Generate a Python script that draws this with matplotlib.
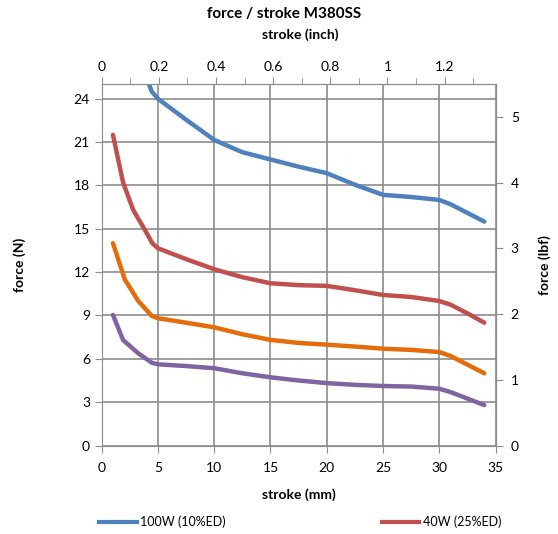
import numpy as np
import matplotlib.pyplot as plt
from matplotlib.lines import Line2D

plt.rcParams['font.family'] = ['Lato', 'DejaVu Sans']

# stroke (mm) and force (N)
x_100w = [4.05, 4.45, 5, 7.5, 10, 12.5, 15, 17.5, 20, 22.5, 25, 27.5, 30, 31, 32.5, 34]
f_100w = [25.3, 24.5, 24.0, 22.55, 21.15, 20.3, 19.8, 19.3, 18.85, 18.05, 17.35, 17.2, 17.0, 16.7, 16.1, 15.5]

x_40w = [1, 1.9, 2.8, 3.85, 4.5, 5, 7.5, 10, 12.5, 15, 17.5, 20, 22.5, 25, 27.5, 30, 31, 32.5, 34]
f_40w = [21.5, 18.2, 16.3, 14.9, 14.0, 13.65, 12.9, 12.2, 11.65, 11.23, 11.1, 11.05, 10.75, 10.42, 10.28, 10.0, 9.75, 9.15, 8.5]

x_or = [1, 2.05, 3.25, 4.45, 5, 7.5, 10, 12.5, 15, 17.5, 20, 22.5, 25, 27.5, 30, 31, 32.5, 34]
f_or = [14.0, 11.5, 10.0, 8.97, 8.81, 8.5, 8.18, 7.7, 7.31, 7.1, 6.98, 6.85, 6.7, 6.62, 6.47, 6.2, 5.6, 5.0]

x_pu = [1, 1.9, 3.25, 4.45, 5, 7.5, 10, 12.5, 15, 17.5, 20, 22.5, 25, 27.5, 30, 31, 32.5, 34]
f_pu = [9.04, 7.3, 6.38, 5.73, 5.62, 5.5, 5.35, 5.0, 4.72, 4.5, 4.32, 4.2, 4.12, 4.08, 3.93, 3.7, 3.25, 2.8]

labels = ['100W (10%ED)', '40W (25%ED)']
grey = '#8c8c8c'

fig = plt.figure(figsize=(5.58, 5.34), dpi=100)
ax = fig.add_axes([0.1823, 0.1657, 0.7057, 0.6764])

ax.plot(x_100w, f_100w, color='#4F81BD', lw=3.2, solid_joinstyle='round', solid_capstyle='round')
ax.plot(x_40w, f_40w, color='#C0504D', lw=3.2, solid_joinstyle='round', solid_capstyle='round')
ax.plot(x_or, f_or, color='#E46C0A', lw=3.2, solid_joinstyle='round', solid_capstyle='round')
ax.plot(x_pu, f_pu, color='#8064A2', lw=3.2, solid_joinstyle='round', solid_capstyle='round')

ax.set_xlim(0, 35)
ax.set_ylim(0, 25)
ax.set_xticks(np.arange(0, 36, 5))
ax.set_yticks(np.arange(0, 25, 3))
ax.grid(True, color=grey, lw=1.2)
ax.set_axisbelow(True)
for s in ax.spines.values():
    s.set_color(grey)
ax.tick_params(colors=grey, labelcolor='black', labelsize=10, length=5, direction='out')
ax.tick_params(axis='x', pad=7)
ax.set_xlabel('stroke (mm)', fontsize=10, fontweight='bold', labelpad=10)
ax.set_ylabel('force (N)', fontsize=10, fontweight='bold', labelpad=34)

# top axis in inch
top = ax.secondary_xaxis('top', functions=(lambda x: x / 25.4, lambda x: x * 25.4))
top.set_xticks(np.arange(0, 1.3, 0.2))
top.set_xticklabels(['0', '0.2', '0.4', '0.6', '0.8', '1', '1.2'])
top.set_xticks(np.arange(0.1, 1.4, 0.2), minor=True)
top.tick_params(colors=grey, labelcolor='black', labelsize=10, length=5, pad=3)
top.tick_params(which='minor', colors=grey, length=4)
top.spines['top'].set_color(grey)

# right axis in lbf
ax2 = ax.twinx()
ax2.set_ylim(0, 5.5)
ax2.set_yticks(range(0, 6))
for s in ax2.spines.values():
    s.set_visible(False)
ax2.spines['right'].set_visible(True)
ax2.spines['right'].set_color(grey)
ax2.tick_params(colors=grey, labelcolor='black', labelsize=10, length=5, pad=6)
ax2.set_ylabel('force (lbf)', fontsize=10, fontweight='bold', labelpad=14)

fig.text(0.509, 0.973, 'force / stroke M380SS', ha='center', va='center', fontsize=11, fontweight='bold')
fig.text(0.538, 0.936, 'stroke (inch)', ha='center', va='center', fontsize=10, fontweight='bold')

handles = [Line2D([], [], color='#4F81BD', lw=3), Line2D([], [], color='#C0504D', lw=3)]
fig.legend(handles, labels, loc='center', bbox_to_anchor=(0.538, 0.023), ncol=2, frameon=False,
           fontsize=9, handlelength=3, handletextpad=0.25, columnspacing=12.5)

fig.savefig('out.png', dpi=100)
